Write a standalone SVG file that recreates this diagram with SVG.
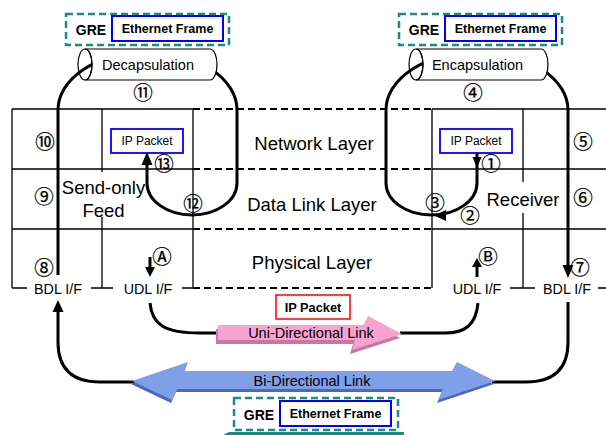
<svg xmlns="http://www.w3.org/2000/svg" width="606" height="435" viewBox="0 0 606 435">
<style>
.t{font-family:"Liberation Sans",Arial,sans-serif;fill:#000}
.c{font-family:"Noto Sans CJK JP","DejaVu Sans",sans-serif;font-size:19.5px;text-anchor:middle;fill:#000;stroke:#000;stroke-width:0.25}
.g{stroke:#000;stroke-width:1.3;fill:none}
.d{stroke:#000;stroke-width:2;stroke-dasharray:7,4;fill:none}
.k{stroke:#000;stroke-width:3;fill:none}
.ah{fill:#000;stroke:none}
.gre{fill:#fff;stroke:#1b8a8a;stroke-width:2.5;stroke-dasharray:7,4}
.eth{fill:#fff;stroke:#0000ff;stroke-width:2}
.cyl{fill:#fff;stroke:#000;stroke-width:1.2}
</style>
<rect width="606" height="435" fill="#fff"/>
<g id="grid">
<path class="g" d="M12,109H193M12,169H193M12,229H193M12,288H27M91,288H113M182,288H193M12,109V288M102,109V172M102,217V288M193,109V288"/>
<path class="g" d="M432,109H606M432,169H606M432,229H606M510,288H535M598,288H606M432,109V288M523,109V182M523,213V288"/>
<path class="d" d="M193,109H432M193,169H432M193,229H432M193,288H432"/>
</g>
<g id="connectors">
<path class="k" d="M58,275V110A89.5,58 0 0 1 237,110V183A45,32 0 0 1 192,215A45,32 0 0 1 147,183V163"/>
<polygon class="ah" points="147,152 141.5,165 152.5,165"/>
<path class="k" d="M477,153V183A45.5,32 0 0 1 431.5,215A45.5,32 0 0 1 386,183V110A91,58 0 0 1 568,110V266"/>
<polygon class="ah" points="472.5,157 481.5,157 477,168"/>
<polygon class="ah" points="434,215.5 446,210 446,221"/>
<polygon class="ah" points="568,278 562.5,265 573.5,265"/>
<path class="k" d="M150,257V268"/>
<polygon class="ah" points="150,277 145,267 155,267"/>
<path class="k" d="M477,266V277"/>
<polygon class="ah" points="477,258 472,267 482,267"/>
<path class="k" d="M58,310V342Q58,382 100,382H135"/>
<polygon class="ah" points="58,300 52.5,312 63.5,312"/>
<path class="k" d="M568,302V342Q568,382 526,382H492"/>
<path class="k" d="M150,303C152,325 165,333 200,333H222"/>
<path class="k" d="M400,333H445C465,333 476,325 478,303"/>
</g>
<g id="decapsulation">
<path class="cyl" d="M85,49H210A7,15.5 0 0 1 210,80H85A7,15.5 0 0 0 85,49Z"/>
<ellipse cx="85" cy="64.5" rx="7" ry="15.5" fill="none" stroke="#000" stroke-width="1.2"/>
<text class="t" x="148" y="70" font-size="14.5" text-anchor="middle">Decapsulation</text>
</g>
<g id="encapsulation">
<path class="cyl" d="M416,49H541A7,15.5 0 0 1 541,80H416A7,15.5 0 0 0 416,49Z"/>
<ellipse cx="416" cy="64.5" rx="7" ry="15.5" fill="none" stroke="#000" stroke-width="1.2"/>
<text class="t" x="477.5" y="70" font-size="14.5" text-anchor="middle">Encapsulation</text>
</g>
<g id="gre-left">
<rect class="gre" x="66" y="14" width="163" height="31"/>
<text class="t" x="91" y="35" font-size="14" font-weight="bold" text-anchor="middle">GRE</text>
<rect class="eth" x="112" y="16" width="111" height="25"/>
<text class="t" x="167.5" y="33" font-size="12.5" font-weight="bold" text-anchor="middle">Ethernet Frame</text>
</g>
<g id="gre-right">
<rect class="gre" x="399" y="14" width="163" height="31"/>
<text class="t" x="424" y="35" font-size="14" font-weight="bold" text-anchor="middle">GRE</text>
<rect class="eth" x="445" y="16" width="111" height="25"/>
<text class="t" x="500.5" y="33" font-size="12.5" font-weight="bold" text-anchor="middle">Ethernet Frame</text>
</g>
<g id="gre-bottom">
<rect class="gre" x="234" y="398" width="164" height="32"/>
<text class="t" x="259" y="420" font-size="14" font-weight="bold" text-anchor="middle">GRE</text>
<rect class="eth" x="280" y="401" width="111" height="25"/>
<text class="t" x="335.5" y="418" font-size="12.5" font-weight="bold" text-anchor="middle">Ethernet Frame</text>
<polygon points="223,435 229,432 404,432 404,435" fill="#1b8a80"/>
</g>
<g id="ip-left">
<rect x="111" y="129" width="72" height="24" fill="#fff" stroke="#0000ff" stroke-width="1.8"/>
<text class="t" x="147" y="144.5" font-size="12" text-anchor="middle">IP Packet</text>
</g>
<g id="ip-right">
<rect x="440" y="129" width="72" height="24" fill="#fff" stroke="#0000ff" stroke-width="1.8"/>
<text class="t" x="476" y="144.5" font-size="12" text-anchor="middle">IP Packet</text>
</g>
<g id="ip-udl">
<rect x="276" y="295" width="74" height="24" fill="#fff" stroke="#ff0000" stroke-width="1.5"/>
<text class="t" x="313" y="312" font-size="12.8" font-weight="bold" text-anchor="middle">IP Packet</text>
</g>
<g id="layers">
<text class="t" x="314" y="149.5" font-size="18.5" text-anchor="middle">Network Layer</text>
<text class="t" x="312" y="210.5" font-size="18.5" text-anchor="middle">Data Link Layer</text>
<text class="t" x="312" y="268.5" font-size="18.5" text-anchor="middle">Physical Layer</text>
</g>
<g id="send-only-feed">
<text class="t" x="103.5" y="194" font-size="18.5" text-anchor="middle">Send-only</text>
<text class="t" x="103.5" y="217" font-size="18.5" text-anchor="middle">Feed</text>
</g>
<g id="receiver">
<text class="t" x="523" y="205.5" font-size="18.5" text-anchor="middle">Receiver</text>
</g>
<g id="interfaces">
<text class="t" x="58" y="294" font-size="14.3" text-anchor="middle">BDL I/F</text>
<text class="t" x="148" y="294" font-size="14.3" text-anchor="middle">UDL I/F</text>
<text class="t" x="477" y="294" font-size="14.3" text-anchor="middle">UDL I/F</text>
<text class="t" x="567" y="294" font-size="14.3" text-anchor="middle">BDL I/F</text>
</g>
<g id="udl-link">
<polygon points="216,329 362,329 366,320 400,338 350,354 353,344 216,344" fill="#c8789f"/>
<polygon points="218,325 364,325 368,316 402,334 352,350 355,340 218,340" fill="#f7a3d0"/>
<text class="t" x="311" y="338" font-size="14.5" text-anchor="middle">Uni-Directional Link</text>
</g>
<g id="bdl-link">
<polygon points="131,384 187,365 183,374 451,374 456,365 494,384 437,403 442,392 176,392 171,403" fill="#4f68b5"/>
<polygon points="132,381 188,362 184,371 452,371 457,362 495,381 438,400 443,389 177,389 172,400" fill="#7f9fe8"/>
<text class="t" x="312" y="386" font-size="14.5" text-anchor="middle">Bi-Directional Link</text>
</g>
<g id="marks">
<text class="c" x="143" y="100">⑪</text>
<text class="c" x="473" y="100">④</text>
<text class="c" x="45" y="149">⑩</text>
<text class="c" x="44" y="204">⑨</text>
<text class="c" x="44" y="275">⑧</text>
<text class="c" x="164" y="170.5">⑬</text>
<text class="c" x="193" y="211">⑫</text>
<text class="c" x="583" y="149">⑤</text>
<text class="c" x="583" y="205">⑥</text>
<text class="c" x="580" y="275">⑦</text>
<text class="c" x="491" y="170.5">①</text>
<text class="c" x="470" y="223">②</text>
<text class="c" x="435" y="210">③</text>
<text class="c" x="162" y="264">Ⓐ</text>
<text class="c" x="488" y="264">Ⓑ</text>
</g>
</svg>
